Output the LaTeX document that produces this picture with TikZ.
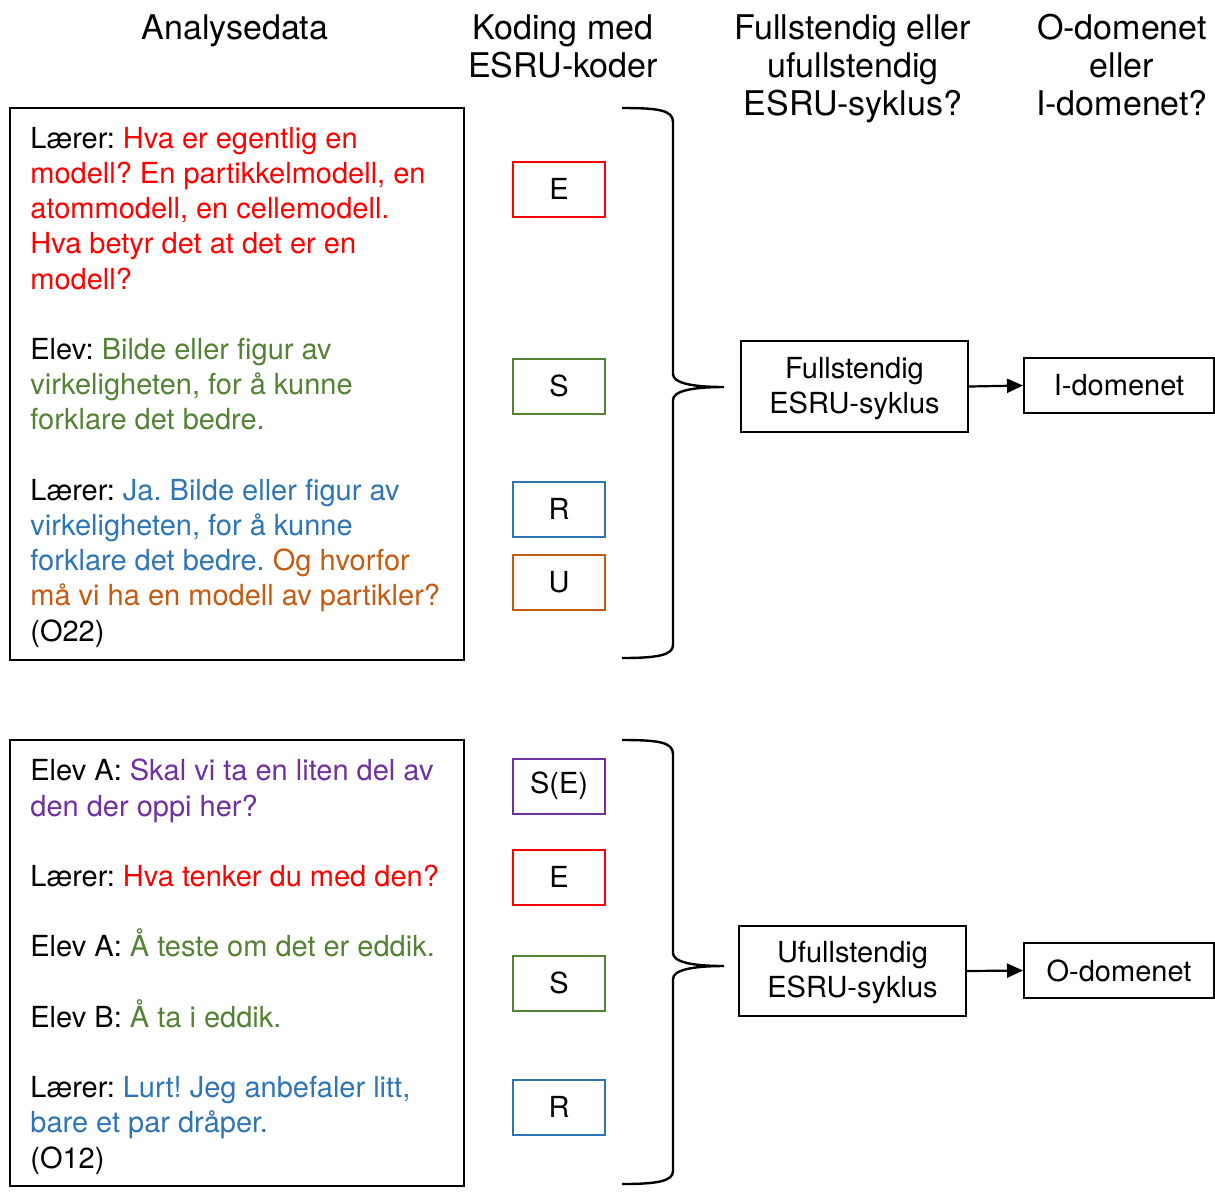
\documentclass[tikz,border=0pt]{standalone}
\usepackage{fontspec}
\setmainfont{TeX Gyre Heros}
\usepackage{xcolor}
\usepackage{tikz}
\usetikzlibrary{arrows.meta, positioning}
\frenchspacing
\definecolor{codered}{RGB}{255,0,0}
\definecolor{codegreen}{RGB}{84,130,53}
\definecolor{codeblue}{RGB}{46,117,182}
\definecolor{codeorange}{RGB}{197,90,17}
\definecolor{codepurple}{RGB}{112,48,160}
\tikzset{
  header/.style={align=center, inner sep=0pt,
    font=\fontsize{17pt}{19pt}\selectfont},
  transcript/.style={align=left, inner sep=0pt,
    font=\fontsize{14.5pt}{17.6pt}\selectfont},
  frame/.style={rectangle, draw, line width=1.3pt, minimum width=227pt},
  codebox/.style={rectangle, draw=#1, line width=1pt, inner sep=0pt,
    minimum width=46pt, minimum height=27.5pt,
    font=\fontsize{14.5pt}{17.5pt}\selectfont},
  resultbox/.style={rectangle, draw, line width=1pt, inner sep=0pt,
    align=center, font=\fontsize{14.5pt}{17.5pt}\selectfont},
  cyclebrace/.style={line width=1.2pt},
  arrow/.style={-{Triangle[length=8pt,width=7pt]}, line width=1.1pt}
}

\begin{document}
\begin{tikzpicture}[x=0.5pt, y=-0.5pt]
  \useasboundingbox (0,0) rectangle (1215,1191);
  % ── headers (anchored at the baseline of the last line) ─
  \node[header, anchor=base] (hdata) at (235,39) {Analysedata};
  \node[header, anchor=base] (hcode) at (563,77) {Koding med\\ESRU-koder};
  \node[header, anchor=base] (hcycle) at (853,115) {Fullstendig eller\\ufullstendig\\ESRU-syklus?};
  \node[header, anchor=base] (hdomain) at (1122,115) {O-domenet\\eller\\I-domenet?};

  % ── (1) O22: full cycle ─────────────────────────────────
  \node[frame, minimum height=276pt] (frameA) at (237,384) {};
  \node[transcript, anchor=base west] (textA) at (30,641) {%
    Lærer: \textcolor{codered}{Hva er egentlig en}\\
    \textcolor{codered}{modell? En partikkelmodell, en}\\
    \textcolor{codered}{atommodell, en cellemodell.}\\
    \textcolor{codered}{Hva betyr det at det er en}\\
    \textcolor{codered}{modell?}\\[17.6pt]
    Elev: \textcolor{codegreen}{Bilde eller figur av}\\
    \textcolor{codegreen}{virkeligheten, for å kunne}\\
    \textcolor{codegreen}{forklare det bedre.}\\[17.6pt]
    Lærer: \textcolor{codeblue}{Ja. Bilde eller figur av}\\
    \textcolor{codeblue}{virkeligheten, for å kunne}\\
    \textcolor{codeblue}{forklare det bedre.} \textcolor{codeorange}{Og hvorfor}\\
    \textcolor{codeorange}{må vi ha en modell av partikler?}\\
    (O22)};
  \node[codebox=codered] (cA1) at (559,189) {E};
  \node[codebox=codegreen] (cA2) at (559,386) {S};
  \node[codebox=codeblue] (cA3) at (559,509) {R};
  \node[codebox=codeorange] (cA4) at (559,582) {U};
  % brace over the codes
  \draw[cyclebrace] (622,108) .. controls (658,108) and (673,110) .. (673,122)
    -- (673,374) .. controls (673,383) and (692,387) .. (724,387)
    .. controls (692,387) and (673,391) .. (673,400)
    -- (673,645) .. controls (673,655) and (658,658) .. (622,658);
  \node[resultbox, minimum width=113.5pt, minimum height=45.5pt] (fullA) at (854.5,386.5) {\strut Fullstendig\\ESRU-syklus};
  \node[resultbox, minimum width=95pt, minimum height=27.5pt] (domA) at (1119,385.5) {I-domenet};
  \draw[arrow] (fullA.east) -- (domA.west);

  % ── (2) O12: incomplete cycle ───────────────────────────
  \node[frame, minimum height=223pt] (frameB) at (237,963) {};
  \node[transcript, anchor=base west] (textB) at (30,1168) {%
    Elev A: \textcolor{codepurple}{Skal vi ta en liten del av}\\
    \textcolor{codepurple}{den der oppi her?}\\[17.6pt]
    Lærer: \textcolor{codered}{Hva tenker du med den?}\\[17.6pt]
    Elev A: \textcolor{codegreen}{Å teste om det er eddik.}\\[17.6pt]
    Elev B: \textcolor{codegreen}{Å ta i eddik.}\\[17.6pt]
    Lærer: \textcolor{codeblue}{Lurt! Jeg anbefaler litt,}\\
    \textcolor{codeblue}{bare et par dråper.}\\
    (O12)};
  \node[codebox=codepurple] (cB1) at (559,786) {S(E)};
  \node[codebox=codered] (cB2) at (559,877) {E};
  \node[codebox=codegreen] (cB3) at (559,983) {S};
  \node[codebox=codeblue] (cB4) at (559,1107) {R};
  % brace over the codes
  \draw[cyclebrace] (622,740) .. controls (658,740) and (673,742) .. (673,754)
    -- (673,953) .. controls (673,962) and (692,966) .. (724,966)
    .. controls (692,966) and (673,970) .. (673,979)
    -- (673,1171) .. controls (673,1181) and (658,1184) .. (622,1184);
  \node[resultbox, minimum width=113.5pt, minimum height=45pt] (fullB) at (852.5,971) {\strut Ufullstendig\\ESRU-syklus};
  \node[resultbox, minimum width=95pt, minimum height=27.5pt] (domB) at (1119,970.5) {O-domenet};
  \draw[arrow] (fullB.east) -- (domB.west);
\end{tikzpicture}
\end{document}
